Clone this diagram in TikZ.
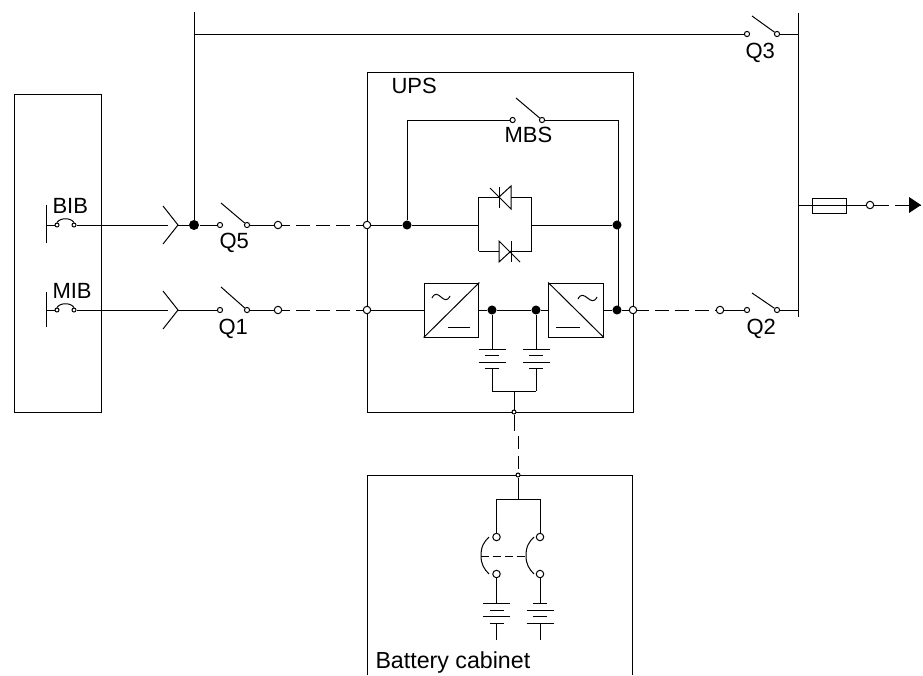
\documentclass[tikz,border=0pt]{standalone}
\usepackage{fontspec}
\setmainfont{Liberation Sans}
\begin{document}
\begin{tikzpicture}[x=0.75pt,y=-0.75pt,line width=0.75pt]
    \tikzstyle{every node}=[font=\fontsize{16.5}{18}\selectfont]
    \tikzstyle{contact}=[circle,draw,fill=white,minimum size=3.9pt,inner sep=0pt]
    \tikzstyle{open contact}=[contact,minimum size=5.6pt]
    \tikzstyle{tap}=[contact,minimum size=3pt]
    \tikzstyle{joint}=[circle,fill=black,minimum size=6.8pt,inner sep=0pt]
    \tikzstyle{unit}=[draw,rectangle,inner sep=0pt]
    \tikzstyle{converter}=[unit,minimum width=41pt,minimum height=40.5pt]
    \tikzstyle{annot}=[anchor=base west,inner sep=0pt]
    \tikzstyle{link}=[dash pattern=on 10.5pt off 4.5pt,dash phase=4.5pt]
    \useasboundingbox (0,0) rectangle (923,675);

    % Draw the enclosures
    \node[unit,minimum width=65.25pt,minimum height=238.5pt] (mains) at (57.5,253) {};
    \node[unit,minimum width=199.5pt,minimum height=255pt] (ups) at (500,242) {};
    \coordinate (cab-a) at (367,675);
    \coordinate (cab-b) at (367,475);
    \coordinate (cab-c) at (632,475);
    \coordinate (cab-d) at (632,675);
    \draw (cab-a) -- (cab-b) -- (cab-c) -- (cab-d);

    % Draw the switches
    \foreach \name/\xa/\xb/\xt/\y/\rise in {Q5/220/247/221/225/22,Q1/220/247/221/310/23,Q2/747/777/752/310/17,Q3/747/777/752/34/18,MBS/512.6/542/516/120/22} {
        \node[contact] (\name-a) at (\xa,\y) {};
        \node[contact] (\name-b) at (\xb,\y) {};
        \coordinate (\name-t) at (\xt,\y-\rise);
        \draw (\name-t) -- (\name-b);
    }
    \foreach \name/\x/\y in {Q5/219/248,Q1/218/334,Q2/746/334,Q3/745/58,MBS/504/142}
        \node[annot] (lbl-\name) at (\x,\y) {\name};

    % Draw the two feeders from the breaker to the UPS
    \foreach \name/\feed/\y/\ytop/\ybot/\ylbl in {BIB/Q5/225/205/243/213,MIB/Q1/310/292/327/298} {
        \coordinate (\name-top) at (46,\ytop);
        \coordinate (\name-bot) at (46,\ybot);
        \coordinate (\name-in) at (46,\y);
        \draw (\name-top) -- (\name-bot);
        \node[tap] (\name-a) at (57,\y) {};
        \node[tap] (\name-b) at (74,\y) {};
        \draw (\name-a.north) .. controls +(3,-5) and +(-3,-5) .. (\name-b.north);
        \node[annot] (lbl-\name) at (52,\ylbl) {\name};
        \coordinate (\name-plug) at (168,\y);
        \coordinate (\name-tip) at (178,\y);
        \coordinate (\name-up) at (163,\y-19);
        \coordinate (\name-dn) at (163,\y+19);
        \draw (\name-up) -- (\name-tip) -- (\name-dn);
        \draw (\name-in) -- (\name-a);
        \draw (\name-b) -- (\name-plug);
        \node[open contact] (\feed-out) at (278,\y) {};
        \node[open contact] (\feed-in) at (367,\y) {};
        \draw (\feed-b) -- (\feed-out);
        \draw[link] (\feed-out) -- (\feed-in);
    }
    \node[joint,minimum size=7.5pt] (tie) at (194,225) {};
    \draw (BIB-tip) -- (tie);
    \draw (tie) -- (Q5-a);
    \draw (MIB-tip) -- (Q1-a);

    % Draw the bypass line and the output bus
    \coordinate (tie-top) at (194,12);
    \coordinate (tie-q3) at (194,34);
    \coordinate (bus-top) at (798,13);
    \coordinate (bus-bot) at (798,317);
    \coordinate (bus-q3) at (799,34);
    \coordinate (bus-q2) at (799,310);
    \coordinate (bus-fuse) at (798,205);
    \draw (tie) -- (tie-top);
    \draw (tie-q3) -- (Q3-a);
    \draw (Q3-b) -- (bus-q3);
    \draw (bus-top) -- (bus-bot);
    \draw (Q2-b) -- (bus-q2);

    % Draw the static switch
    \node[joint] (st-in) at (407,225) {};
    \node[joint] (st-out) at (617,225) {};
    \coordinate (loop-w) at (478.5,225);
    \coordinate (loop-e) at (531.5,225);
    \coordinate (loop-nw) at (478.5,197);
    \coordinate (loop-ne) at (531.5,197);
    \coordinate (loop-sw) at (478.5,251);
    \coordinate (loop-se) at (531.5,251);
    \coordinate (thy-a) at (499,197);
    \coordinate (thy-b) at (511,197);
    \coordinate (thy-c) at (499,251);
    \coordinate (thy-d) at (511,251);
    \draw (Q5-in) -- (st-in) -- (loop-w);
    \draw (loop-e) -- (st-out);
    \draw (loop-nw) -- (loop-sw);
    \draw (loop-ne) -- (loop-se);
    \draw (loop-nw) -- (thy-a);
    \draw (thy-b) -- (loop-ne);
    \draw (loop-sw) -- (thy-c);
    \draw (thy-d) -- (loop-se);
    % upper one points left, lower one points right
    \draw (499,187) -- (499,208);
    \draw (490,188) -- (511,209) -- (511,186) -- (thy-a);
    \draw (511,241) -- (511,262);
    \draw (520,262) -- (499,241) -- (499,262) -- (thy-d);

    % Draw the maintenance bypass
    \coordinate (mbs-w) at (407,120);
    \coordinate (mbs-e) at (618,120);
    \coordinate (mbs-s) at (618,310);
    \draw (st-in) -- (mbs-w) -- (MBS-a);
    \draw (MBS-b) -- (mbs-e) -- (mbs-s);
    \node[annot] (lbl-ups) at (391,93) {UPS};

    % Draw the rectifier and the inverter
    \node[converter] (rect) at (451.5,310) {};
    \node[converter] (inv) at (576,310) {};
    \draw (rect.south west) -- (rect.north east);
    \draw (inv.north west) -- (inv.south east);
    \draw (432,298) .. controls (438,286) and (444,308) .. (450,296);
    \draw (578,299) .. controls (584,287) and (591,309) .. (597,297);
    \draw (448,327) -- (470,327);
    \draw (556,327) -- (580,327);
    \node[joint] (dc-a) at (492,310) {};
    \node[joint] (dc-b) at (536,310) {};
    \node[joint] (ac-out) at (617,310) {};
    \node[open contact] (ups-out) at (633,310) {};
    \node[open contact] (q2-in) at (720,310) {};
    \draw (Q1-in) -- (rect);
    \draw (rect) -- (dc-a) -- (dc-b) -- (inv);
    \draw (inv) -- (ac-out) -- (ups-out);
    \draw[link,dash phase=1.9pt] (ups-out) -- (q2-in);
    \draw (q2-in) -- (Q2-a);

    % Draw the batteries inside the UPS
    \foreach \name/\x in {a/492,b/536} {
        \coordinate (bat-\name-top) at (\x,349);
        \coordinate (bat-\name-bot) at (\x,368);
        \coordinate (bat-\name-end) at (\x,391);
        \draw (dc-\name) -- (bat-\name-top);
        \draw (bat-\name-bot) -- (bat-\name-end);
        \foreach \y/\w in {349/13.5,355/7,362/13.5,368/7}
            \draw (\x-\w,\y) -- (\x+\w,\y);
    }
    \coordinate (bat-mid) at (514,391);
    \node[tap] (ups-tap) at (514,412) {};
    \coordinate (ups-tail) at (514,431);
    \coordinate (cab-link) at (518,436);
    \node[tap] (cab-tap) at (518,475) {};
    \draw (bat-a-end) -- (bat-b-end);
    \draw (bat-mid) -- (ups-tap) -- (ups-tail);
    \draw[dash pattern=on 9.75pt off 5.25pt] (cab-link) -- (cab-tap);

    % Draw the output with its fuse
    \node[unit,minimum width=26pt,minimum height=11.25pt] (fuse) at (829.5,205.5) {};
    \node[open contact] (out) at (870,205) {};
    \coordinate (out-gap) at (889,205);
    \coordinate (out-more) at (895,205);
    \coordinate (tip-a) at (909,197);
    \coordinate (tip-b) at (909,213);
    \coordinate (tip-c) at (921,205);
    \draw (bus-fuse) -- (out);
    \draw (out) -- (out-gap);
    \draw (out-more) -- (tip-c);
    \fill (tip-a) -- (tip-c) -- (tip-b) -- cycle;

    % Draw the battery cabinet
    \coordinate (cab-t) at (518,499);
    \coordinate (cab-l) at (496.5,499);
    \coordinate (cab-r) at (540,499);
    \draw (cab-tap) -- (cab-t);
    \draw (cab-l) -- (cab-r);
    \foreach \name/\x/\k/\xk in {l/496.5/481/489,r/540/526/534} {
        \node[open contact] (fus-\name-a) at (\x,537) {};
        \node[open contact] (fus-\name-b) at (\x,574) {};
        \coordinate (blade-\name-a) at (\xk,537);
        \coordinate (blade-\name-k) at (\k,556);
        \coordinate (blade-\name-b) at (\xk,574);
        \draw (cab-\name) -- (fus-\name-a);
        \draw (blade-\name-a) .. controls +(-5,5) and +(0,-10) .. (blade-\name-k);
        \draw (blade-\name-k) .. controls +(0,8) and +(-5,-5) .. (blade-\name-b);
        \coordinate (cell-\name-top) at (\x,603);
        \coordinate (cell-\name-bot) at (\x,623);
        \coordinate (cell-\name-end) at (\x,640);
        \draw (fus-\name-b) -- (cell-\name-top);
    }
    \draw[dash pattern=on 6pt off 3pt] (blade-l-k) -- (blade-r-k);
    \foreach \x/\wa/\wb in {496.5/13.5/7,540/7/13.5} {
        \foreach \y/\w in {603/\wa,610/\wb,616/\wa,623/\wb}
            \draw (\x-\w,\y) -- (\x+\w,\y);
    }
    \draw (cell-l-bot) -- (cell-l-end);
    \draw (cell-r-bot) -- (cell-r-end);
    \node[annot,font=\fontsize{17.4}{19}\selectfont] (lbl-cab) at (375,668) {Battery cabinet};
\end{tikzpicture}
\end{document}
